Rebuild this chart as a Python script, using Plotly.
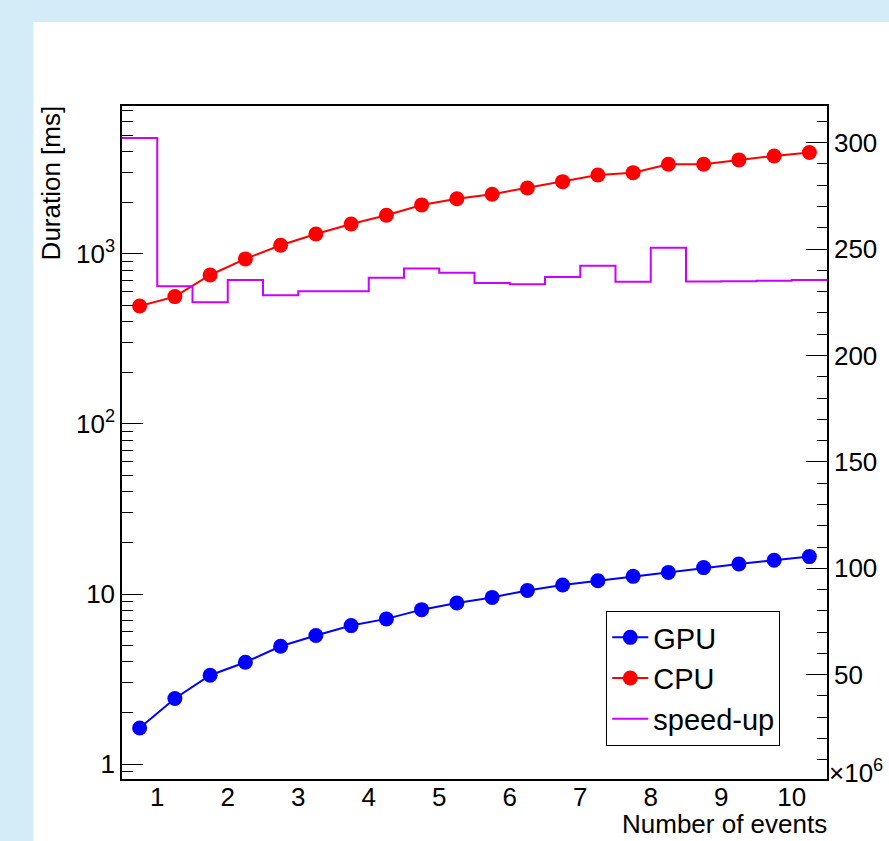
import plotly.graph_objects as go

# ---------------- data ----------------
n_events = [0.75, 1.25, 1.75, 2.25, 2.75, 3.25, 3.75, 4.25, 4.75, 5.25,
            5.75, 6.25, 6.75, 7.25, 7.75, 8.25, 8.75, 9.25, 9.75, 10.25]  # x 10^6
gpu_ms = [1.63, 2.43, 3.33, 3.97, 4.93, 5.70, 6.52, 7.14, 8.09, 8.85,
          9.55, 10.5, 11.3, 11.97, 12.7, 13.4, 14.3, 15.0, 15.8, 16.6]
cpu_ms = [494, 561, 752, 935, 1125, 1311, 1500, 1690, 1942, 2113,
          2244, 2444, 2662, 2915, 3006, 3371, 3371, 3573, 3770, 3946]
speedup = [302.2, 232.5, 225.0, 235.4, 228.3, 230.2, 230.2, 236.5, 240.9, 238.8,
           234.0, 233.4, 236.8, 242.1, 234.6, 250.6, 234.8, 234.9, 235.1, 235.4]
x_tick_vals = [1, 2, 3, 4, 5, 6, 7, 8, 9, 10]
x_tick_text = ["1", "2", "3", "4", "5", "6", "7", "8", "9", "10"]
y_tick_vals = [1, 10, 100, 1000]
y_tick_text = ["1", "10", "10<sup>2</sup>", "10<sup>3</sup>"]
y2_tick_vals = [50, 100, 150, 200, 250, 300]
y2_tick_text = ["50", "100", "150", "200", "250", "300"]

# histogram bin edges from bin centres
half = (n_events[1] - n_events[0]) / 2
edges = [c - half for c in n_events] + [n_events[-1] + half]
step_y = speedup + [speedup[-1]]

FONT = "Liberation Sans, Arial, Helvetica, sans-serif"
W, H = 889, 841
L, R, T, B = 122, 58, 106, 62
pw, ph = W - L - R, H - T - B


def px_x(p):
    return (p - L) / pw


def px_y(p):
    return (H - B - p) / ph


fig = go.Figure()

fig.add_trace(go.Scatter(
    x=edges, y=step_y, mode="lines", name="speed-up", yaxis="y2",
    legendrank=3,
    line=dict(color="#cc00ff", width=2, shape="hv"),
))
fig.add_trace(go.Scatter(
    x=n_events, y=gpu_ms, mode="lines+markers", name="GPU",
    legendrank=1,
    line=dict(color="#0000ff", width=2),
    marker=dict(color="#0000ff", size=15, symbol="circle"),
))
fig.add_trace(go.Scatter(
    x=n_events, y=cpu_ms, mode="lines+markers", name="CPU",
    legendrank=2,
    line=dict(color="#ff0000", width=2),
    marker=dict(color="#ff0000", size=15, symbol="circle"),
))

xr = [edges[0], edges[-1]]
long_ticks = [edges[0] + i for i in range(11)]
short_ticks = [round(edges[0] + 0.2 * i, 3) for i in range(51)]

minor_log = []
for dec in [0.1, 1, 10, 100, 1000]:
    for m in range(2, 10):
        minor_log.append(m * dec)

fig.update_layout(
    width=W, height=H,
    margin=dict(l=L, r=R, t=T, b=B, pad=0),
    paper_bgcolor="#d3ecf8",
    plot_bgcolor="white",
    font=dict(family=FONT, size=26, color="black"),
    showlegend=True,
    legend=dict(
        x=px_x(609), y=px_y(611), xanchor="left", yanchor="top",
        bgcolor="white", bordercolor="black", borderwidth=1,
        font=dict(size=29), traceorder="normal",
        itemwidth=36, tracegroupgap=0,
    ),
    xaxis=dict(
        range=xr, showgrid=False, zeroline=False,
        showline=True, linecolor="black", linewidth=1.5, mirror=True,
        tickmode="array", tickvals=x_tick_vals, ticktext=x_tick_text,
        ticks="", ticklen=0, tickfont=dict(size=26),
        ticklabelstandoff=-6,
    ),
    xaxis2=dict(
        range=xr, overlaying="x", anchor="y", side="bottom",
        showgrid=False, zeroline=False, showline=False,
        showticklabels=False,
        tickmode="array", tickvals=long_ticks,
        ticks="inside", ticklen=20, tickwidth=1.2, tickcolor="black",
        minor=dict(tickmode="array", tickvals=short_ticks, ticks="inside",
                   ticklen=10, tickwidth=1.2, tickcolor="black", showgrid=False),
    ),
    yaxis=dict(
        type="log", range=[-0.088, 3.870], showgrid=False, zeroline=False,
        showline=True, linecolor="black", linewidth=1.5,
        tickmode="array", tickvals=y_tick_vals, ticktext=y_tick_text,
        ticks="inside", ticklen=21, tickwidth=1.2, tickcolor="black",
        tickfont=dict(size=26),
        minor=dict(tickmode="array", tickvals=minor_log, ticks="inside",
                   ticklen=11, tickwidth=1.2, tickcolor="black", showgrid=False),
    ),
    yaxis2=dict(
        overlaying="y", side="right", anchor="x",
        range=[1.0, 317.2], showgrid=False, zeroline=False,
        showline=True, linecolor="black", linewidth=1.5,
        tickmode="array", tickvals=y2_tick_vals, ticktext=y2_tick_text,
        ticks="inside", ticklen=21, tickwidth=1.2, tickcolor="black",
        tickfont=dict(size=26),
        minor=dict(tickmode="array", tickvals=list(range(10, 320, 10)),
                   ticks="inside", ticklen=10, tickwidth=1.2,
                   tickcolor="black", showgrid=False),
    ),
    shapes=[dict(
        type="rect", xref="paper", yref="paper", layer="below",
        x0=px_x(33), x1=px_x(W + 10), y0=px_y(H + 10), y1=px_y(22),
        fillcolor="white", line=dict(width=0),
    )],
    annotations=[
        dict(text="Duration [ms]", xref="paper", yref="paper",
             x=px_x(51), y=px_y(183), xanchor="center", yanchor="middle",
             textangle=-90, showarrow=False, font=dict(size=26)),
        dict(text="Number of events", xref="paper", yref="paper",
             x=px_x(833), y=px_y(841), xanchor="right", yanchor="bottom",
             showarrow=False, font=dict(size=26)),
        dict(text="×10<sup>6</sup>", xref="paper", yref="paper",
             x=px_x(831), y=px_y(771), xanchor="left", yanchor="middle",
             showarrow=False, font=dict(size=26)),
    ],
)

fig.write_html("out.html",
               config={"displayModeBar": False},
               post_script="document.body.style.margin='0';"
                           "document.body.style.overflow='hidden';")
